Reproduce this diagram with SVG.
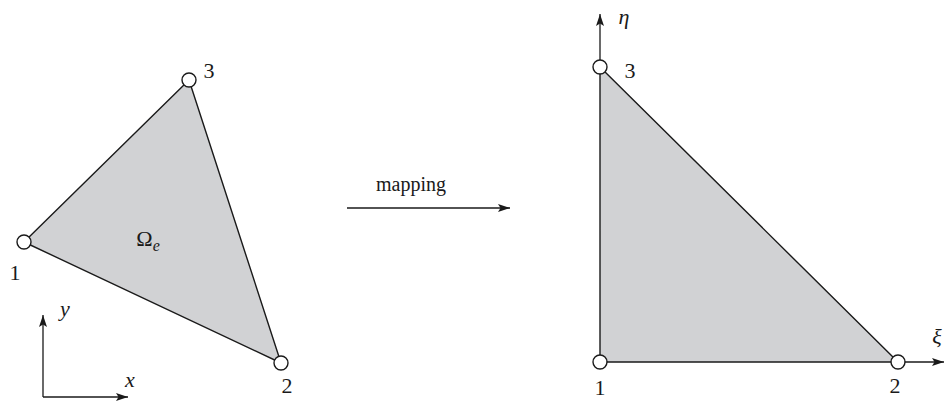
<svg xmlns="http://www.w3.org/2000/svg" width="945" height="402" viewBox="0 0 945 402">
<style>
.tri{fill:#d1d2d4;stroke:#1a1a1a;stroke-width:1.4;stroke-linejoin:round}
.ax{stroke:#1a1a1a;stroke-width:1.3;fill:none}
.nd{fill:#fff;stroke:#1a1a1a;stroke-width:1.4}
text{font-family:'Liberation Serif','DejaVu Serif','Times New Roman',serif;fill:#1a1a1a;text-anchor:middle}
.num{font-size:22px}
.it{font-style:italic;font-size:22px}
.lbl{font-size:20px}
</style>
<defs>
<marker id="ah" viewBox="0 0 12 8" refX="12" refY="4" markerWidth="12" markerHeight="8" markerUnits="userSpaceOnUse" orient="auto">
<path d="M0,0 L12,4 L0,8 L2.5,4 Z" fill="#1a1a1a"/>
</marker>
</defs>
<g id="connectors">
<line class="ax" x1="43" y1="397" x2="43" y2="315" marker-end="url(#ah)"/>
<line class="ax" x1="43" y1="397" x2="128" y2="397" marker-end="url(#ah)"/>
<line class="ax" x1="347" y1="208" x2="510" y2="208" marker-end="url(#ah)"/>
<line class="ax" x1="600" y1="67" x2="600" y2="14" marker-end="url(#ah)"/>
<line class="ax" x1="898" y1="362" x2="944" y2="362" marker-end="url(#ah)"/>
</g>
<g id="element">
<polygon class="tri" points="24,242 281,363 189,80"/>
<text class="num" x="148" y="246">Ω<tspan font-style="italic" font-size="16" dy="5">e</tspan></text>
</g>
<g id="reference">
<polygon class="tri" points="600,362 898,362 600,67"/>
</g>
<g id="n1"><circle class="nd" cx="24" cy="242" r="7"/><text class="num" x="15" y="280">1</text></g>
<g id="n2"><circle class="nd" cx="281" cy="363" r="7"/><text class="num" x="287" y="393">2</text></g>
<g id="n3"><circle class="nd" cx="189" cy="80" r="7"/><text class="num" x="209" y="78">3</text></g>
<g id="r1"><circle class="nd" cx="600" cy="362" r="7"/><text class="num" x="600" y="395">1</text></g>
<g id="r2"><circle class="nd" cx="898" cy="362" r="7"/><text class="num" x="895" y="393">2</text></g>
<g id="r3"><circle class="nd" cx="600" cy="67" r="7"/><text class="num" x="630" y="78">3</text></g>
<g id="labels">
<text class="it" x="65" y="316">y</text>
<text class="it" x="130" y="387">x</text>
<text class="lbl" x="411" y="191">mapping</text>
<text class="it" x="624" y="24">η</text>
<text class="it" x="937" y="344">ξ</text>
</g>
</svg>
